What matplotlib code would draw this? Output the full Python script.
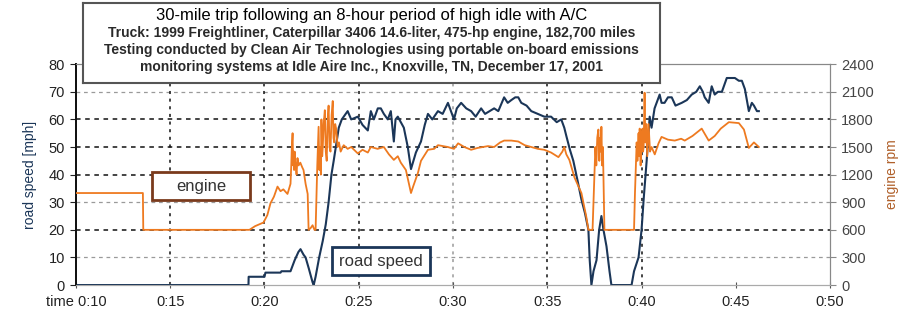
import numpy as np
import matplotlib
matplotlib.use("Agg")
import matplotlib.pyplot as plt
from matplotlib.patches import Rectangle

plt.rcParams['font.family'] = ['Liberation Sans', 'DejaVu Sans']

# road speed trace, time in minutes past the hour / mph
speed_t = [10.0, 19.15, 19.16, 20.0, 20.05, 20.85, 20.9, 21.38, 21.6, 21.8, 21.91, 22.07, 22.18,
           22.35, 22.55, 22.61, 22.71, 22.9, 23.09, 23.25, 23.40, 23.55, 23.67, 23.94, 24.1, 24.41,
           24.6, 24.95, 25.2, 25.48, 25.64, 25.8, 26.01, 26.17, 26.33, 26.54, 26.7, 26.86, 26.95,
           27.07, 27.23, 27.39, 27.6, 27.77, 28.03, 28.3, 28.5, 28.67, 28.9, 29.2, 29.45, 29.73,
           30.05, 30.2, 30.43, 30.7, 30.96, 31.2, 31.49, 31.7, 32.18, 32.4, 32.71, 32.9, 33.09,
           33.3, 33.46, 33.62, 33.9, 34.15, 34.5, 34.84, 35.2, 35.5, 35.74, 35.9, 36.01, 36.2,
           36.38, 36.6, 36.81, 37.0, 37.18, 37.25, 37.34, 37.45, 37.61, 37.75, 37.87, 37.98, 38.14,
           38.3, 38.40, 39.47, 39.6, 39.84, 40.0, 40.11, 40.27, 40.43, 40.53, 40.69, 40.96, 41.06,
           41.22, 41.4, 41.6, 41.8, 42.13, 42.4, 42.66, 42.9, 43.09, 43.25, 43.35, 43.56, 43.72,
           43.88, 44.05, 44.26, 44.52, 44.95, 45.16, 45.32, 45.48, 45.69, 45.85, 45.96, 46.12, 46.22]
speed_mph = [0, 0, 3, 3, 4.5, 4.5, 5, 5, 9, 12, 13, 11, 10,
             6, 1, 0, 3, 10, 16, 22, 30, 40, 45, 57, 60, 63,
             60, 61, 58, 56, 63, 60, 64, 64, 62, 60, 63, 52, 60,
             61, 59, 57, 50, 42, 48, 52, 58, 62, 60, 63, 62, 66,
             60, 64, 66, 64, 63, 61, 64, 62, 64, 63, 68, 66, 67,
             68, 68, 66, 65, 63, 62, 61, 61, 59, 60, 57, 54, 49,
             45, 38, 31, 26, 20, 9, 0, 5, 9, 20, 25, 20, 14,
             5, 0, 0, 5, 10, 20, 31, 45, 61, 57, 64, 69, 66,
             66, 68, 68, 65, 66, 67, 69, 70, 72, 70, 68, 66, 72,
             69, 70, 70, 75, 75, 74, 74, 71, 63, 66, 65, 63, 63]

# engine speed trace, rpm
rpm_t = [10.0, 13.55, 13.57, 19.2, 19.5, 19.95, 20.15, 20.32, 20.5, 20.69, 20.85, 21.0, 21.22,
         21.38, 21.42, 21.45, 21.49, 21.52, 21.54, 21.57, 21.6, 21.65, 21.7, 21.75, 21.81, 21.9,
         22.0, 22.07, 22.18, 22.29, 22.34, 22.45, 22.55, 22.65, 22.71, 22.76, 22.8, 22.84, 22.87,
         22.91, 22.95, 22.99, 23.02, 23.06, 23.09, 23.14, 23.2, 23.25, 23.3, 23.35, 23.4, 23.45,
         23.5, 23.56, 23.62, 23.66, 23.7, 23.75, 23.8, 23.88, 23.95, 24.04, 24.2, 24.41, 24.6,
         24.95, 25.2, 25.48, 25.64, 26.0, 26.33, 26.6, 26.86, 27.07, 27.23, 27.5, 27.77, 27.9,
         28.14, 28.3, 28.67, 29.0, 29.2, 29.73, 30.05, 30.27, 30.6, 30.96, 31.3, 31.86, 32.18,
         32.5, 32.71, 33.09, 33.46, 33.8, 34.15, 34.5, 34.84, 35.2, 35.59, 35.8, 35.9, 36.01,
         36.17, 36.44, 36.81, 37.07, 37.18, 37.4, 37.45, 37.5, 37.55, 37.6, 37.65, 37.71, 37.76,
         37.8, 37.84, 37.87, 37.91, 37.95, 38.0, 38.03, 39.6, 39.65, 39.7, 39.74, 39.78, 39.84,
         39.88, 39.9, 39.95, 40.0, 40.05, 40.08, 40.11, 40.16, 40.2, 40.25, 40.3, 40.37, 40.45,
         40.53, 40.7, 40.9, 41.06, 41.4, 41.76, 42.1, 42.29, 42.7, 43.19, 43.56, 43.88, 44.2,
         44.63, 45.16, 45.43, 45.69, 45.96, 46.22]
rpm = [1000, 1000, 600, 600, 640, 680, 760, 890, 960, 1070, 1020, 1040, 990,
       1100, 1300, 1500, 1650, 1300, 1450, 1250, 1450, 1300, 1200, 1380, 1300, 1330,
       1280, 1250, 1100, 990, 600, 620, 650, 600, 600, 1000, 1300, 1550, 1720,
       1250, 1500, 1200, 1800, 1400, 1500, 1750, 1900, 1450, 1350, 1800, 1950, 1500,
       1450, 1850, 2000, 1600, 1550, 1750, 1700, 1500, 1550, 1450, 1520, 1480, 1500,
       1430, 1470, 1440, 1500, 1480, 1500, 1420, 1360, 1400, 1330, 1250, 1000, 1080,
       1220, 1350, 1470, 1480, 1520, 1500, 1480, 1540, 1500, 1470, 1490, 1510, 1500,
       1550, 1570, 1570, 1560, 1520, 1500, 1480, 1470, 1440, 1390, 1450, 1500, 1420,
       1360, 1170, 1000, 740, 600, 600, 900, 1170, 1500, 1300, 1600, 1690, 1350,
       1600, 1450, 1720, 1300, 1500, 900, 600, 600, 1000, 1300, 1550, 1350, 1650,
       1400, 1700, 1300, 1600, 1700, 1450, 1500, 2090, 1550, 1750, 1400, 1750, 1450,
       1500, 1420, 1540, 1610, 1580, 1570, 1590, 1570, 1620, 1700, 1570, 1620, 1700,
       1770, 1760, 1690, 1490, 1550, 1500]

x_ticks = [10, 15, 20, 25, 30, 35, 40, 45, 50]
x_labels = ['time 0:10', '0:15', '0:20', '0:25', '0:30', '0:35', '0:40', '0:45', '0:50']
speed_ticks = [0, 10, 20, 30, 40, 50, 60, 70, 80]
rpm_ticks = [0, 300, 600, 900, 1200, 1500, 1800, 2100, 2400]

title_lines = [
    '30-mile trip following an 8-hour period of high idle with A/C',
    'Truck: 1999 Freightliner, Caterpillar 3406 14.6-liter, 475-hp engine, 182,700 miles',
    'Testing conducted by Clean Air Technologies using portable on-board emissions',
    'monitoring systems at Idle Aire Inc., Knoxville, TN, December 17, 2001',
]

NAVY = '#1b3658'
ORANGE = '#ee7a20'

fig = plt.figure(figsize=(9.13, 3.21), dpi=100)
ax = fig.add_axes([0.0832, 0.112, 0.826, 0.688])
ax2 = ax.twinx()

ax.set_xlim(10, 50)
ax.set_ylim(0, 80)
ax2.set_ylim(0, 2400)

# horizontal grid: some lines dark, some light
for v in speed_ticks[1:-1]:
    if v in (20, 40, 50, 60):
        ax.axhline(v, color='#111111', lw=1.1, ls=(0, (3, 3)), zorder=1)
    else:
        ax.axhline(v, color='#9a9a9a', lw=0.9, ls=(0, (3, 3)), zorder=1)
for v in [15, 20, 25, 30, 35, 40]:
    c = '#9a9a9a' if v == 30 else '#111111'
    ax.axvline(v, color=c, lw=1.1, ls=(0, (2, 3)), zorder=1)

ax.plot(speed_t, speed_mph, color=NAVY, lw=1.5, zorder=3)
ax2.plot(rpm_t, rpm, color=ORANGE, lw=1.3, zorder=3)

ax.set_xticks(x_ticks)
ax.set_xticklabels(x_labels, fontsize=10.5, color='#222222')
ax.set_yticks(speed_ticks)
ax.set_yticklabels([str(v) for v in speed_ticks], fontsize=10.5, color='#222222')
ax2.set_yticks(rpm_ticks)
ax2.set_yticklabels([str(v) for v in rpm_ticks], fontsize=10.5, color='#444444')
ax.tick_params(axis='x', length=4, direction='inout', color='#555555', pad=5)
ax.tick_params(axis='y', length=4, direction='out', color='#222222', pad=4)
ax2.tick_params(axis='y', length=4, direction='out', color='#888888', pad=4)

for a in (ax, ax2):
    a.spines['top'].set_color('#888888')
    a.spines['bottom'].set_color('#aaaaaa')
    a.spines['right'].set_color('#888888')
    a.spines['left'].set_color('#111111')
    a.spines['left'].set_linewidth(1.3)

ax.set_ylabel('road speed [mph]', color=NAVY, fontsize=10, labelpad=8)
ax2.set_ylabel('engine rpm', color='#b0602a', fontsize=10, labelpad=8)

# series labels in framed boxes (axes fractions)
for (x0, y0, w, h), label, edge in [((0.101, 0.385, 0.130, 0.126), 'engine', '#7a3a1c'),
                                    ((0.340, 0.045, 0.129, 0.127), 'road speed', NAVY)]:
    ax2.add_patch(Rectangle((x0, y0), w, h, transform=ax2.transAxes, fc='white', ec=edge,
                            lw=2, zorder=6))
    ax2.text(x0 + w / 2, y0 + h / 2, label, transform=ax2.transAxes, ha='center', va='center',
             fontsize=12, color='#333333', zorder=7)

# header box over the top of the chart
hdr = fig.add_axes([0.091, 0.741, 0.632, 0.25])
hdr.set_xticks([])
hdr.set_yticks([])
for s in hdr.spines.values():
    s.set_color('#555555')
    s.set_linewidth(1.5)
hdr.text(0.5, 0.84, title_lines[0], ha='center', va='center', fontsize=12)
for i, line in enumerate(title_lines[1:]):
    hdr.text(0.5, 0.625 - i * 0.215, line, ha='center', va='center', fontsize=10,
             weight='bold', color='#2a2a2a')

fig.savefig('out.png', dpi=100)
